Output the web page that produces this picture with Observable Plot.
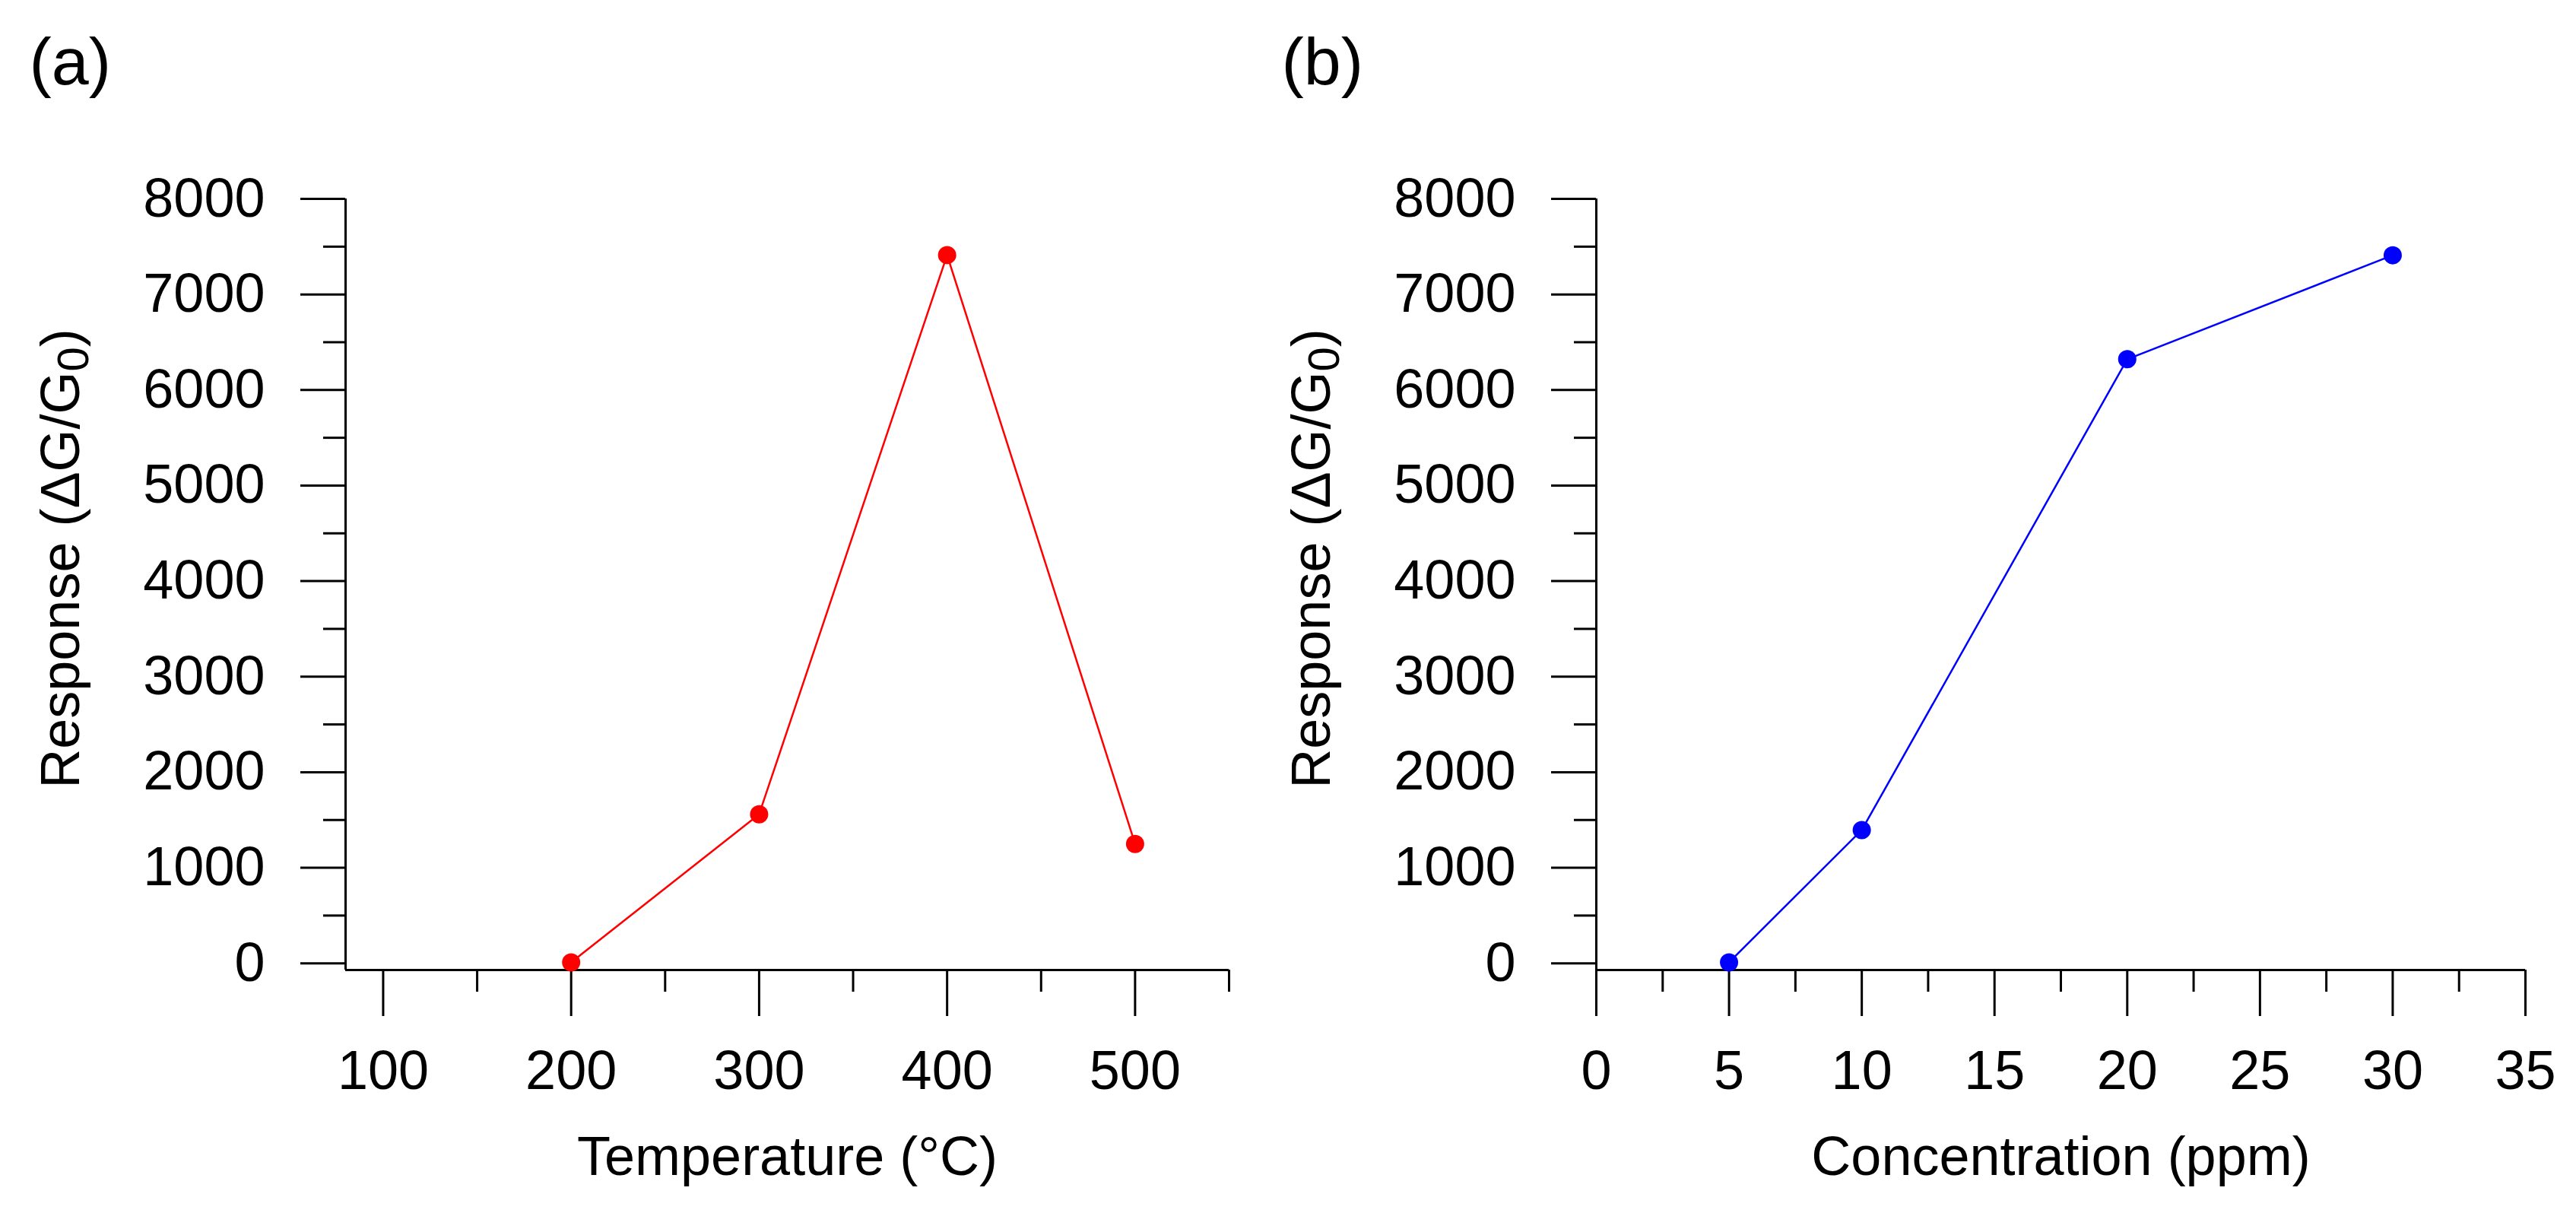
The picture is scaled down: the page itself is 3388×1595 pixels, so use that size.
<!DOCTYPE html>
<html>
<head>
<meta charset="utf-8">
<script src="https://cdn.jsdelivr.net/npm/d3@7"></script>
<script src="https://cdn.jsdelivr.net/npm/@observablehq/plot@0.6"></script>
<style>
  html, body { margin: 0; padding: 0; background: #fff; overflow: hidden; }
  #charts { display: flex; width: 3388px; height: 1595px; }
  #charts svg { flex: none; overflow: visible; }
</style>
</head>
<body>
<div id="charts"></div>
<script>
// datos
const temperatures = [200, 300, 400, 500];
const responseTemp = [10, 1560, 7412, 1250];

const concentrations = [5, 10, 20, 30];
const responseConc = [10, 1395, 6322, 7410];

// ejes
const yDomain = [-70, 8000];
const yTicks = [0, 1000, 2000, 3000, 4000, 5000, 6000, 7000, 8000];
const yMinor = [500, 1500, 2500, 3500, 4500, 5500, 6500, 7500];

const xDomainA = [80, 550];
const xTicksA = [100, 200, 300, 400, 500];
const xMinorA = [150, 250, 350, 450, 550];

const xDomainB = [0, 35];
const xTicksB = [0, 5, 10, 15, 20, 25, 30, 35];
const xMinorB = [2.5, 7.5, 12.5, 17.5, 22.5, 27.5, 32.5];

const yLabel = "Response (ΔG/G0)";
const font = "'Liberation Sans', Arial, sans-serif";

function panel({data, xDomain, xTicks, xMinor, xLabel, tag, tagDx, color, width, marginLeft, marginRight}) {
  const chart = Plot.plot({
    width,
    height: 1595,
    marginTop: 261,
    marginBottom: 320,
    marginLeft,
    marginRight,
    x: {domain: xDomain},
    y: {domain: yDomain},
    style: {fontFamily: font, fontSize: "72px", color: "black", background: "white", maxWidth: "none"},
    marks: [
      Plot.axisY(yTicks, {tickSize: 59, tickPadding: 47, strokeWidth: 3, fontSize: 72, tickFormat: d3.format("d"), label: null}),
      Plot.axisY(yMinor, {tickSize: 29, strokeWidth: 3, tickFormat: () => "", label: null}),
      Plot.axisX(xTicks, {tickSize: 61, tickPadding: 44, strokeWidth: 3, fontSize: 72, tickFormat: d3.format("d"), label: null}),
      Plot.axisX(xMinor, {tickSize: 29, strokeWidth: 3, tickFormat: () => "", label: null}),
      Plot.ruleX([xDomain[0]], {strokeWidth: 3}),
      Plot.ruleY([yDomain[0]], {strokeWidth: 3}),
      Plot.line(data, {x: "x", y: "y", stroke: color, strokeWidth: 2.5}),
      Plot.dot(data, {x: "x", y: "y", r: 12, fill: color}),
      // titulos de ejes
      Plot.text([yLabel], {frameAnchor: "left", text: d => d, rotate: -90, dx: -351, dy: -34,
        lineAnchor: "bottom", textAnchor: "middle", fontSize: 72}),
      Plot.text([xLabel], {frameAnchor: "bottom", text: d => d, dy: 269,
        lineAnchor: "bottom", textAnchor: "middle", fontSize: 72}),
      Plot.text([tag], {frameAnchor: "top-left", text: d => d, dx: tagDx, dy: -151,
        lineAnchor: "bottom", textAnchor: "start", fontSize: 88})
    ]
  })

  // subindice del G0
  d3.select(chart).selectAll("text")
    .filter(function() { return this.textContent === yLabel })
    .each(function() {
      const t = d3.select(this).text("Response (ΔG/G")
      t.append("tspan").attr("font-size", "58px").attr("dy", "12px").text("0")
      t.append("tspan").attr("font-size", "72px").attr("dy", "-12px").text(")")
    })
  return chart
}

const chartA = panel({
  data: temperatures.map((t, i) => ({x: t, y: responseTemp[i]})),
  xDomain: xDomainA, xTicks: xTicksA, xMinor: xMinorA,
  xLabel: "Temperature (°C)", tag: "(a)", tagDx: -416, color: "#ff0000",
  width: 1660, marginLeft: 454, marginRight: 44
})

const chartB = panel({
  data: concentrations.map((c, i) => ({x: c, y: responseConc[i]})),
  xDomain: xDomainB, xTicks: xTicksB, xMinor: xMinorB,
  xLabel: "Concentration (ppm)", tag: "(b)", tagDx: -414, color: "#0000ff",
  width: 1728, marginLeft: 439, marginRight: 67
})

d3.select('#charts').append(() => chartA)
d3.select('#charts').append(() => chartB)
</script>
</body>
</html>
